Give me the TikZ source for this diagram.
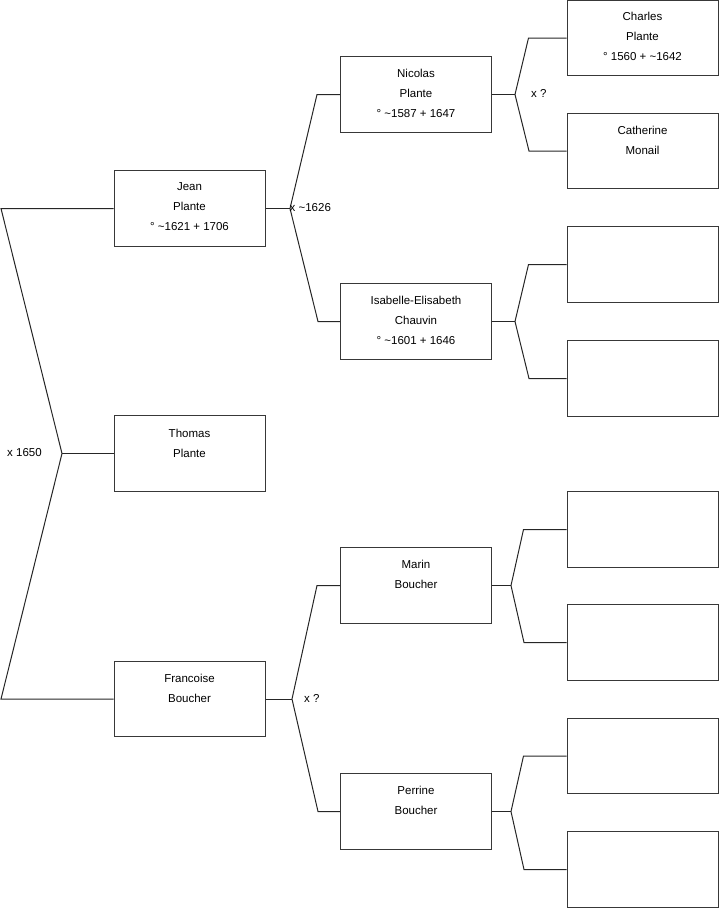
\documentclass[tikz,border=0pt]{standalone}
\usepackage{fontspec}
\setmainfont{Liberation Sans}
\newcommand{\tl}{\textasciitilde}
\begin{document}
\begin{tikzpicture}[x=1pt,y=-1pt,
  pbox/.style={draw=black!78, line width=1pt, rectangle, minimum width=151pt, minimum height=75.5pt, inner sep=0pt},
  ptext/.style={anchor=base, align=center, inner sep=0pt, font=\fontsize{11.5}{20}\selectfont},
  mlabel/.style={anchor=base west, inner sep=0pt, font=\fontsize{11.5}{14}\selectfont},
  conn/.style={draw=black!85, line width=1pt}]
\useasboundingbox (0,0) rectangle (719,908);
% generation 1
\node[pbox] (jean) at (189.5,208.5) {};
\node[pbox] (thomas) at (189.5,453.5) {};
\node[pbox] (francoise) at (189.5,699) {};
% generation 2
\node[pbox] (nicolas) at (416,94.5) {};
\node[pbox] (isabelle) at (416,321.5) {};
\node[pbox] (marin) at (416,585.5) {};
\node[pbox] (perrine) at (416,811.5) {};
% generation 3
\node[pbox] (charles) at (642.5,38) {};
\node[pbox] (catherine) at (642.5,151) {};
\node[pbox] (e3) at (642.5,264.5) {};
\node[pbox] (e4) at (642.5,378.5) {};
\node[pbox] (e5) at (642.5,529.5) {};
\node[pbox] (e6) at (642.5,642.5) {};
\node[pbox] (e7) at (642.5,756) {};
\node[pbox] (e8) at (642.5,869.5) {};
% texts (anchor = baseline of the last line)
\node[ptext] (tjean) at ([yshift=-60.5pt]jean.north) {Jean\\Plante\\° \tl1621 + 1706};
\node[ptext] (tthomas) at ([yshift=-42pt]thomas.north) {Thomas\\Plante};
\node[ptext] (tfrancoise) at ([yshift=-42pt]francoise.north) {Francoise\\Boucher};
\node[ptext] (tnicolas) at ([yshift=-61pt]nicolas.north) {Nicolas\\Plante\\° \tl1587 + 1647};
\node[ptext] (tisabelle) at ([yshift=-61pt]isabelle.north) {Isabelle-Elisabeth\\Chauvin\\° \tl1601 + 1646};
\node[ptext] (tmarin) at ([yshift=-41.5pt]marin.north) {Marin\\Boucher};
\node[ptext] (tperrine) at ([yshift=-41.5pt]perrine.north) {Perrine\\Boucher};
\node[ptext] (tcharles) at ([yshift=-61pt]charles.north) {Charles\\Plante\\° 1560 + \tl1642};
\node[ptext] (tcatherine) at ([yshift=-42pt]catherine.north) {Catherine\\Monail};
% junction coordinates
\coordinate (ra) at (1,208.5);
\coordinate (rb) at (1,699);
\coordinate (root) at (62,453.5);
\coordinate (jj) at (290,208.5);
\coordinate (jf) at (292,699);
\coordinate (jn) at (515,94.5);
\coordinate (ji) at (515,321.5);
\coordinate (jm) at (511,585.5);
\coordinate (jp) at (511,811.5);
% connectors
\draw[conn] (jean.west) -- (ra) -- (root) -- (rb) -- (francoise.west);
\draw[conn] (root) -- (thomas.west);
\draw[conn] (jean.east) -- (jj);
\draw[conn] (nicolas.west) -- ++(-23,0) -- (jj) -- (318,321.5) -- (isabelle.west);
\draw[conn] (francoise.east) -- (jf);
\draw[conn] (marin.west) -- ++(-23,0) -- (jf) -- (318,811.5) -- (perrine.west);
\draw[conn] (nicolas.east) -- (jn);
\draw[conn] (charles.west) -- ++(-38,0) -- (jn) -- (529,151) -- (catherine.west);
\draw[conn] (isabelle.east) -- (ji);
\draw[conn] (e3.west) -- ++(-38,0) -- (ji) -- (529,378.5) -- (e4.west);
\draw[conn] (marin.east) -- (jm);
\draw[conn] (e5.west) -- ++(-43,0) -- (jm) -- (524,642.5) -- (e6.west);
\draw[conn] (perrine.east) -- (jp);
\draw[conn] (e7.west) -- ++(-43,0) -- (jp) -- (524,869.5) -- (e8.west);
% marriage labels
\node[mlabel] (m1) at (7,456) {x 1650};
\node[mlabel] (m2) at (289.5,211) {x \tl1626};
\node[mlabel] (m3) at (304,702.5) {x ?};
\node[mlabel] (m4) at (531,97.3) {x ?};
\end{tikzpicture}
\end{document}
